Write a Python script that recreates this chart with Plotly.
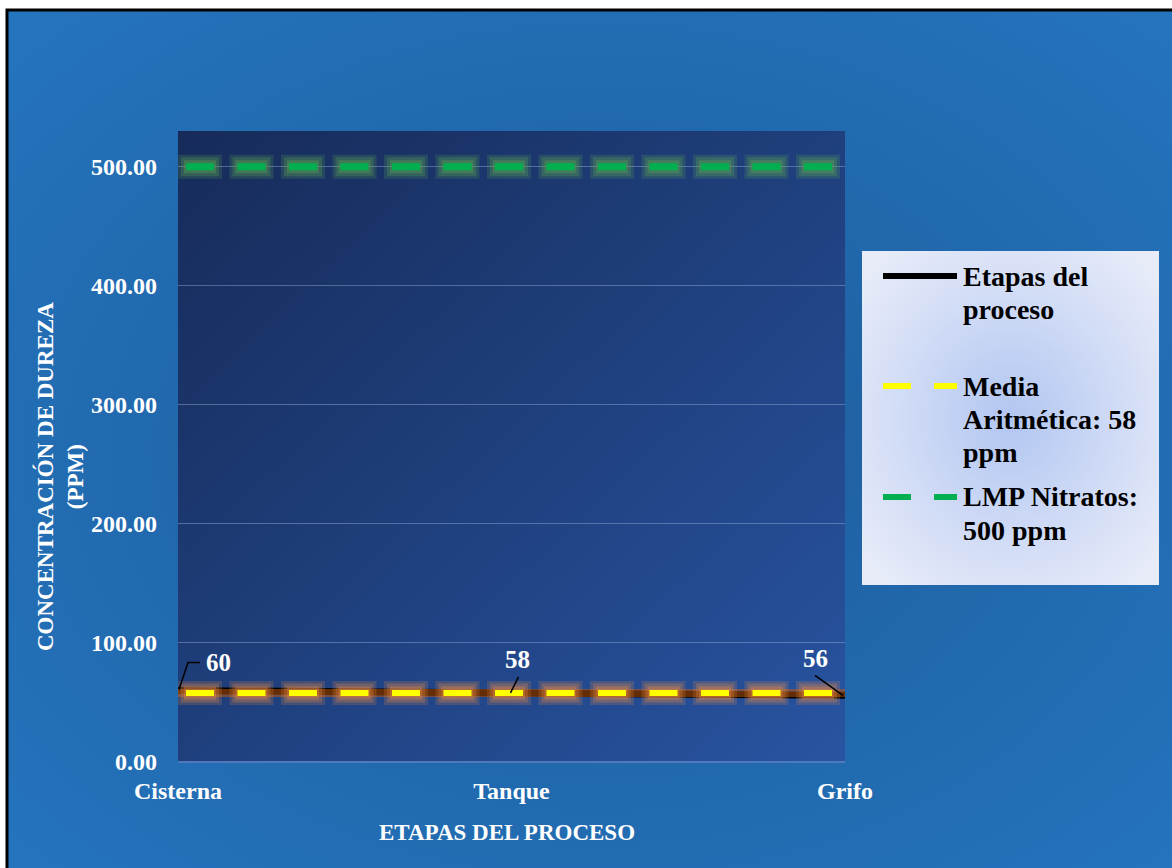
import base64
import plotly.graph_objects as go

# ---------------- data ----------------
categories = ["Cisterna", "Tanque", "Grifo"]
etapas = [60, 58, 56]
media = [58, 58, 58]
lmp = [500, 500, 500]
y_ticks = [0, 100, 200, 300, 400, 500]
series_names = ["Etapas del proceso", "Media Aritmética: 58 ppm", "LMP Nitratos: 500 ppm"]
legend_text = [["Etapas del", "proceso"], ["Media", "Aritmética: 58", "ppm"], ["LMP Nitratos:", "500 ppm"]]
label_text = ["60", "58", "56"]
x_title = "ETAPAS DEL PROCESO"
y_title = "CONCENTRACIÓN DE DUREZA<br>(PPM)"

# ---------------- layout geometry ----------------
FW, FH = 1172, 868
L, R, T, B = 178, 845, 131, 762
PW, PH = R - L, B - T
FONT = "Liberation Serif, Times New Roman, serif"


def px(xp):
    return (xp - L) / PW


def py(yp):
    return (B - yp) / PH


def svg_uri(svg):
    return "data:image/svg+xml;base64," + base64.b64encode(svg.encode()).decode()


outer_svg = (
    '<svg xmlns="http://www.w3.org/2000/svg" width="1000" height="1000" viewBox="0 0 1000 1000" preserveAspectRatio="none">'
    '<defs><radialGradient id="g" cx="0.5" cy="0.5" r="0.72">'
    '<stop offset="0" stop-color="#1d5c9b"/><stop offset="1" stop-color="#2575bf"/>'
    '</radialGradient></defs><rect width="1000" height="1000" fill="url(#g)"/></svg>'
)
plot_svg = (
    '<svg xmlns="http://www.w3.org/2000/svg" width="1000" height="1000" viewBox="0 0 1000 1000" preserveAspectRatio="none">'
    '<defs><linearGradient id="g" x1="0" y1="0" x2="1" y2="1">'
    '<stop offset="0" stop-color="#162b59"/><stop offset="1" stop-color="#2854a1"/>'
    '</linearGradient></defs><rect width="1000" height="1000" fill="url(#g)"/></svg>'
)
legend_svg = (
    '<svg xmlns="http://www.w3.org/2000/svg" width="1000" height="1000" viewBox="0 0 1000 1000" preserveAspectRatio="none">'
    '<defs><radialGradient id="g" cx="0.5" cy="0.5" r="0.65">'
    '<stop offset="0" stop-color="#b2c6f1"/><stop offset="1" stop-color="#e8ecf9"/>'
    '</radialGradient></defs><rect width="1000" height="1000" fill="url(#g)"/></svg>'
)

# dash patterns share a 51.5 px period; glow layers are centred on the dash
DASH = "0px,8px,28px,15.5px"
GLOWS = [("44px,7.5px", 24, 0.2), ("0px,3px,38px,10.5px", 19, 0.26), ("0px,6px,32px,13.5px", 13, 0.34)]
LEG_DASH = "28px,23px"

fig = go.Figure()

# LMP line with glow
for dsh, w, a in GLOWS:
    fig.add_trace(go.Scatter(x=categories, y=lmp, mode="lines", showlegend=False, hoverinfo="skip",
                             line=dict(color=f"rgba(95,170,80,{a})", width=w, dash=dsh)))
fig.add_trace(go.Scatter(x=categories, y=lmp, mode="lines", name=series_names[2], showlegend=False,
                         line=dict(color="#00b050", width=7, dash=DASH)))

# Etapas line (black)
fig.add_trace(go.Scatter(x=categories, y=etapas, mode="lines", name=series_names[0], showlegend=False,
                         line=dict(color="#000000", width=7)))
# Media glow + dashes
fig.add_trace(go.Scatter(x=categories, y=media, mode="lines", showlegend=False, hoverinfo="skip",
                         line=dict(color="rgba(200,90,10,0.5)", width=8)))
for dsh, w, a in GLOWS:
    fig.add_trace(go.Scatter(x=categories, y=media, mode="lines", showlegend=False, hoverinfo="skip",
                             line=dict(color=f"rgba(235,140,70,{a})", width=w, dash=dsh)))
fig.add_trace(go.Scatter(x=categories, y=media, mode="lines", name=series_names[1], showlegend=False,
                         line=dict(color="#ffff00", width=6, dash=DASH)))

images = [
    dict(source=svg_uri(outer_svg), xref="paper", yref="paper", x=px(7), y=py(11),
         sizex=(FW + 20 - 7) / PW, sizey=(FH + 20 - 11) / PH, sizing="stretch",
         xanchor="left", yanchor="top", layer="below"),
    dict(source=svg_uri(plot_svg), xref="paper", yref="paper", x=0, y=1, sizex=1, sizey=1,
         sizing="stretch", xanchor="left", yanchor="top", layer="below"),
    dict(source=svg_uri(legend_svg), xref="paper", yref="paper", x=px(862), y=py(251),
         sizex=(1159 - 862) / PW, sizey=(585 - 251) / PH, sizing="stretch",
         xanchor="left", yanchor="top", layer="below"),
]

shapes = [
    # black frame of the chart
    dict(type="rect", xref="paper", yref="paper", x0=px(7), x1=px(FW + 30), y0=py(FH + 30), y1=py(10),
         line=dict(color="black", width=3), fillcolor="rgba(0,0,0,0)", layer="above"),
]

# legend symbols
leg_sym_y = [276, 386, 497]
leg_styles = [dict(color="#000000", width=6), dict(color="#ffff00", width=6, dash=LEG_DASH),
              dict(color="#00b050", width=6, dash=LEG_DASH)]
for ys, st in zip(leg_sym_y, leg_styles):
    shapes.append(dict(type="line", xref="paper", yref="paper", x0=px(883), x1=px(957),
                       y0=py(ys), y1=py(ys), line=st, layer="above"))

# data label leader lines (pixel offsets anchored to the data points)
leader_paths = ["M1,1 L10,28 L22,28", "M-1,0 L7,16", "M-2,0 L-30,20"]
for cat, val, pth in zip(categories, etapas, leader_paths):
    shapes.append(dict(type="path", xref="x", yref="y", xsizemode="pixel", ysizemode="pixel",
                       xanchor=cat, yanchor=val, path=pth, line=dict(color="black", width=1.5),
                       layer="above"))

annotations = []
label_shift = [(40, 28), (6, 33), (-30, 37)]
for cat, val, txt, (dx, dy) in zip(categories, etapas, label_text, label_shift):
    annotations.append(dict(x=cat, y=val, xref="x", yref="y", text=txt, showarrow=False,
                            xshift=dx, yshift=dy,
                            font=dict(family=FONT, size=25, color="white", weight="bold")))

leg_line_y = [[276, 309], [386, 419, 452], [497, 530]]
for lines, ys in zip(legend_text, leg_line_y):
    for t, yy in zip(lines, ys):
        annotations.append(dict(xref="paper", yref="paper", x=px(961), y=py(yy), text=t,
                                showarrow=False, xanchor="left", yanchor="middle",
                                font=dict(family=FONT, size=28, color="black", weight="bold")))

annotations.append(dict(xref="paper", yref="paper", x=px(507), y=py(832), text=x_title,
                        showarrow=False, xanchor="center", yanchor="middle",
                        font=dict(family=FONT, size=23, color="white", weight="bold")))
annotations.append(dict(xref="paper", yref="paper", x=px(60), y=py(477), text=y_title,
                        showarrow=False, textangle=-90, xanchor="center", yanchor="middle",
                        font=dict(family=FONT, size=23, color="white", weight="bold")))

fig.update_layout(
    width=FW, height=FH, autosize=False,
    margin=dict(l=L, r=FW - R, t=T, b=FH - B, pad=0),
    paper_bgcolor="white", plot_bgcolor="rgba(0,0,0,0)",
    showlegend=False,
    images=images, shapes=shapes, annotations=annotations,
    xaxis=dict(type="category", range=[0, 2], showgrid=False, zeroline=False, showline=False,
               ticks="", ticklabelstandoff=12,
               tickfont=dict(family=FONT, size=24, color="white", weight="bold")),
    yaxis=dict(range=[0, 530], tickvals=y_ticks, tickformat=".2f", showgrid=True,
               gridcolor="rgba(150,175,220,0.45)", gridwidth=1,
               zeroline=True, zerolinecolor="#4f79bd", zerolinewidth=2, showline=False,
               ticks="", ticklabelstandoff=20,
               tickfont=dict(family=FONT, size=24, color="white", weight="bold")),
)

fig.write_html("out.html")
